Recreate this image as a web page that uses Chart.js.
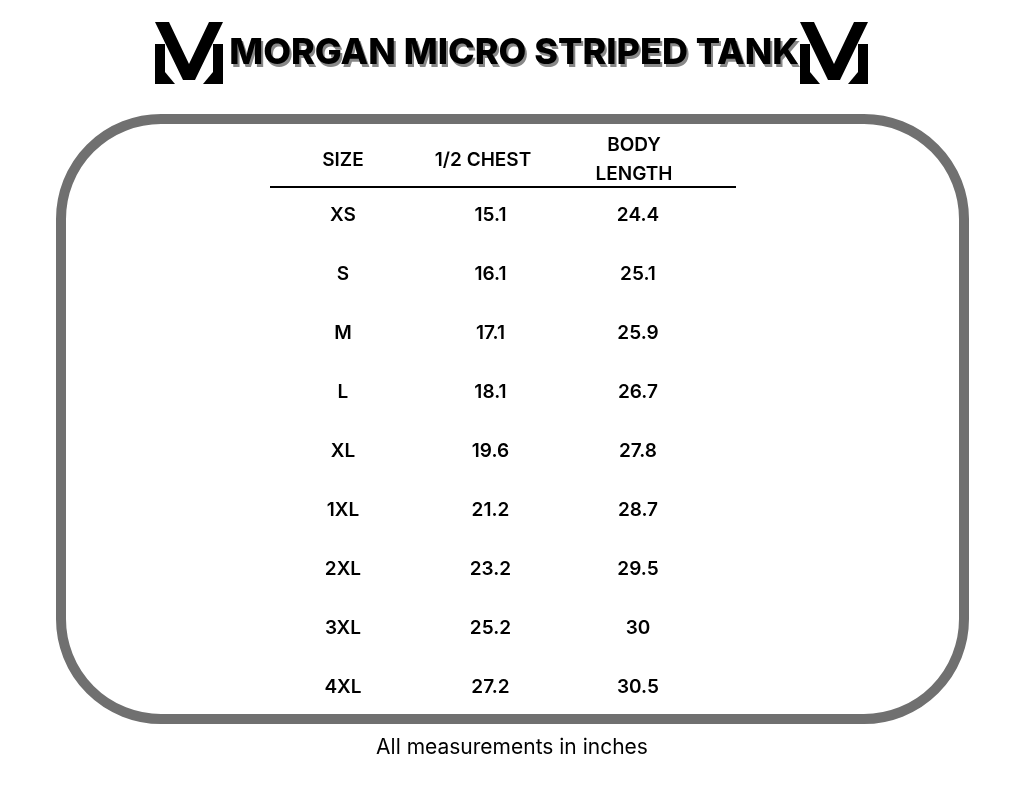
<!DOCTYPE html>
<html><head><meta charset="utf-8">
<script src="https://cdn.jsdelivr.net/npm/chart.js@4.4.0/dist/chart.umd.min.js"></script>
<style>html,body{margin:0;padding:0;background:#fff}canvas{display:block}</style>
</head><body>
<canvas id="c" width="1024" height="791"></canvas>
<script>
const title = "MORGAN MICRO STRIPED TANK";
const headers = [["SIZE"], ["1/2 CHEST"], ["BODY", "LENGTH"]];
const sizes = ["XS","S","M","L","XL","1XL","2XL","3XL","4XL"];
const chest = ["15.1","16.1","17.1","18.1","19.6","21.2","23.2","25.2","27.2"];
const bodyLength = ["24.4","25.1","25.9","26.7","27.8","28.7","29.5","30","30.5"];
const footnote = "All measurements in inches";

const columns = [sizes, chest, bodyLength];
const points = [];
columns.forEach((col, c) => col.forEach((v, r) => points.push({x: c, y: r, label: v})));

const FONT = "Inter, 'Open Sans', sans-serif";
function logo(ctx, x0) {
  ctx.save(); ctx.fillStyle = "#000"; ctx.translate(x0, 22);
  ctx.beginPath(); ctx.moveTo(0,0); ctx.lineTo(14,0); ctx.lineTo(34,42); ctx.lineTo(54,0); ctx.lineTo(68,0); ctx.lineTo(40,58); ctx.lineTo(28,58); ctx.closePath(); ctx.fill();
  ctx.fillRect(0,22,10,40); ctx.fillRect(58,22,10,40);
  ctx.beginPath(); ctx.moveTo(10,50); ctx.lineTo(20,62); ctx.lineTo(10,62); ctx.fill();
  ctx.beginPath(); ctx.moveTo(58,50); ctx.lineTo(48,62); ctx.lineTo(58,62); ctx.fill();
  ctx.restore();
}
const deco = {
  id: "deco",
  beforeDatasetsDraw(chart) {
    const ctx = chart.ctx;
    ctx.save();
    ctx.strokeStyle = "#707070"; ctx.lineWidth = 10;
    ctx.beginPath(); ctx.roundRect(61, 119, 903, 600, 100); ctx.stroke();
    ctx.textAlign = "center"; ctx.textBaseline = "middle";
    ctx.font = "800 36px " + FONT;
    ctx.fillStyle = "#888"; ctx.fillText(title, 516, 56);
    ctx.fillStyle = "#000"; ctx.fillText(title, 514, 53);
    logo(ctx, 155); logo(ctx, 800);
    ctx.font = "600 19px " + FONT;
    const hx = [343, 483, 634];
    headers.forEach((h, i) => {
      if (h.length === 1) ctx.fillText(h[0], hx[i], 160);
      else { ctx.fillText(h[0], hx[i], 145); ctx.fillText(h[1], hx[i], 174); }
    });
    ctx.fillRect(270, 186, 466, 2);
    ctx.font = "400 21px " + FONT;
    ctx.fillText(footnote, 512, 748);
    ctx.restore();
  },
  afterDatasetsDraw(chart) {
    const ctx = chart.ctx, xs = chart.scales.x, ys = chart.scales.y;
    ctx.save(); ctx.fillStyle = "#000"; ctx.textAlign = "center"; ctx.textBaseline = "middle";
    ctx.font = "600 19px " + FONT;
    points.forEach(p => ctx.fillText(p.label, xs.getPixelForValue(p.x), ys.getPixelForValue(p.y)));
    ctx.restore();
  }
};
new Chart(document.getElementById("c"), {
  type: "scatter",
  data: { datasets: [{ data: points, pointRadius: 0 }] },
  options: {
    responsive: false, animation: false,
    layout: { padding: 0 },
    plugins: { legend: { display: false }, tooltip: { enabled: false } },
    scales: {
      x: { type: "linear", display: false, min: -2.325, max: 4.617 },
      y: { type: "linear", display: false, reverse: true, min: -3.644, max: 9.763 }
    }
  },
  plugins: [deco]
});
</script>
</body></html>
